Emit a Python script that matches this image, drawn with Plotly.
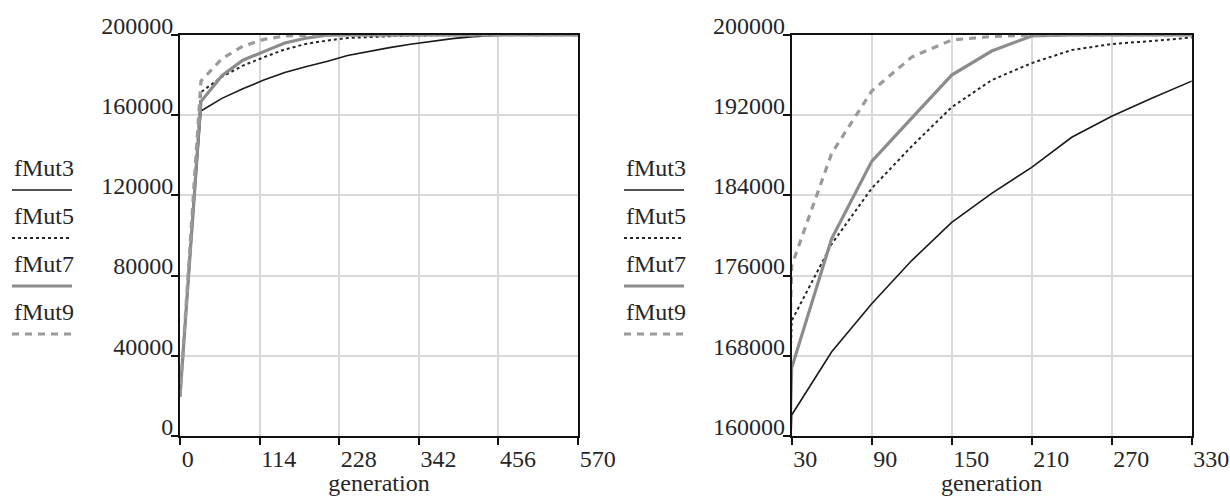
import plotly.graph_objects as go

# ---- data ----
generation = [0, 30, 60, 90, 120, 150, 180, 210, 240, 270, 300, 330,
              360, 390, 420, 450, 480, 510, 540, 570]
fMut3 = [19600, 162100, 168400, 173200, 177500, 181300, 184200, 186800, 189800, 191900,
         193700, 195400, 196900, 198200, 199200, 199800, 200000, 200000, 200000, 200000]
fMut5 = [19600, 171500, 179150, 184700, 188900, 192800, 195500, 197200, 198500, 199100,
         199400, 199750, 199900, 200000, 200000, 200000, 200000, 200000, 200000, 200000]
fMut7 = [19600, 166800, 179700, 187400, 191700, 196000, 198400, 199900, 200000, 200000,
         200000, 200000, 200000, 200000, 200000, 200000, 200000, 200000, 200000, 200000]
fMut9 = [19600, 177000, 188200, 194400, 197800, 199500, 199850, 200000, 200000, 200000,
         200000, 200000, 200000, 200000, 200000, 200000, 200000, 200000, 200000, 200000]

series_names = ["fMut3", "fMut5", "fMut7", "fMut9"]
series_values = [fMut3, fMut5, fMut7, fMut9]

left_xticks = [0, 114, 228, 342, 456, 570]
left_yticks = [0, 40000, 80000, 120000, 160000, 200000]
right_xticks = [30, 90, 150, 210, 270, 330]
right_yticks = [160000, 168000, 176000, 184000, 192000, 200000]

# ---- styles ----
W, H = 1230, 496
FONT = "Liberation Serif, Times New Roman, serif"
FS = 24
TXT = "#262626"
styles = {
    "fMut3": dict(color="#1a1a1a", width=1.6, dash="solid"),
    "fMut5": dict(color="#262626", width=2, dash="3px,3px"),
    "fMut7": dict(color="#8c8c8c", width=3.2, dash="solid"),
    "fMut9": dict(color="#9a9a9a", width=3.2, dash="7px,6px"),
}

fig = go.Figure()
for name, vals in zip(series_names, series_values):
    for xa, ya in (("x", "y"), ("x2", "y2")):
        fig.add_trace(go.Scatter(x=generation, y=vals, mode="lines", name=name,
                                 line=styles[name], xaxis=xa, yaxis=ya,
                                 showlegend=False, hoverinfo="skip"))

ydom = [1 - 436 / H, 1 - 35 / H]
common_axis = dict(showline=True, linecolor="#111111", linewidth=1.8, mirror=True,
                   showgrid=True, gridcolor="#d9d9d9", gridwidth=1.5,
                   ticks="outside", ticklen=7, tickwidth=1.5, tickcolor="#111111",
                   zeroline=False, automargin=False,
                   tickfont=dict(family=FONT, size=FS, color=TXT))
title_font = dict(family=FONT, size=FS, color=TXT)

fig.update_layout(
    width=W, height=H, autosize=False,
    margin=dict(l=0, r=0, t=0, b=0),
    paper_bgcolor="white", plot_bgcolor="white",
    font=dict(family=FONT, size=FS, color=TXT),
    xaxis=dict(domain=[180 / W, 578 / W], range=[0, 570], tickvals=left_xticks,
               ticktext=[str(v) for v in left_xticks],
               ticklabelposition="outside right", anchor="y",
               title=dict(text="generation", standoff=14, font=title_font),
               **common_axis),
    yaxis=dict(domain=ydom, range=[0, 200000], tickvals=left_yticks,
               ticktext=[str(v) for v in left_yticks],
               ticklabelposition="outside top", ticklabelshift=8, anchor="x", **common_axis),
    xaxis2=dict(domain=[791.7 / W, 1191.7 / W], range=[30, 330], tickvals=right_xticks,
                ticktext=[str(v) for v in right_xticks],
                ticklabelposition="outside right", anchor="y2",
                title=dict(text="generation", standoff=14, font=title_font),
                **common_axis),
    yaxis2=dict(domain=ydom, range=[160000, 200000], tickvals=right_yticks,
                ticktext=[str(v) for v in right_yticks],
                ticklabelposition="outside top", ticklabelshift=8, anchor="x2", **common_axis),
)

# ---- custom legends (text above a line sample) ----
legend_text_y = [168, 216, 264, 312]
legend_line_y = [190, 238, 286, 334]
for lx in (12, 624):
    for name, ty, ly in zip(series_names, legend_text_y, legend_line_y):
        fig.add_annotation(x=lx / W, y=1 - ty / H, xref="paper", yref="paper",
                           text=name, showarrow=False, xanchor="left", yanchor="middle",
                           font=dict(family=FONT, size=FS, color=TXT))
        st = styles[name]
        fig.add_shape(type="line", xref="paper", yref="paper",
                      x0=lx / W, x1=(lx + 60) / W, y0=1 - ly / H, y1=1 - ly / H,
                      line=dict(color=st["color"], width=st["width"], dash=st["dash"]))

fig.write_html("out.html")
